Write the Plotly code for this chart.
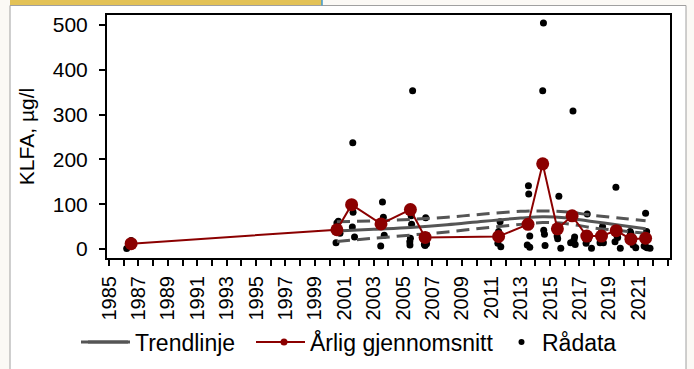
import plotly.graph_objects as go

# ---- data ----
mean_years = [1986.5, 2000.5, 2001.5, 2003.5, 2005.5, 2006.5, 2011.5, 2013.5, 2014.5,
              2015.5, 2016.5, 2017.5, 2018.5, 2019.5, 2020.5, 2021.5]
mean_vals = [12, 43, 99, 56, 88, 26, 28, 55, 190, 45, 74, 29, 29, 41, 22, 24]

raw_x = [1986.2, 1986.5, 1986.5,
         2000.44, 2000.6, 2000.71, 2000.5,
         2001.58, 2001.6, 2001.55, 2001.7,
         2003.6, 2003.66, 2003.72, 2003.48,
         2005.65, 2005.55, 2005.58, 2005.5, 2005.46, 2005.47,
         2006.54, 2006.45, 2006.5, 2006.6,
         2011.6, 2011.5, 2011.45, 2011.65,
         2013.53, 2013.55, 2013.62, 2013.45, 2013.62,
         2014.55, 2014.5, 2014.57, 2014.62, 2014.66,
         2015.6, 2015.48, 2015.52, 2015.73,
         2016.56, 2016.4, 2016.63, 2016.71, 2016.67,
         2017.53, 2017.45, 2017.82, 2017.6,
         2018.57, 2018.4, 2018.63, 2018.5,
         2019.48, 2019.6, 2019.42, 2019.78, 2019.55,
         2020.45, 2020.65, 2020.83, 2020.5,
         2021.5, 2021.57, 2021.4, 2021.8, 2021.6, 2021.5]
raw_y = [1, 16, 19,
         14, 62, 35, 58,
         237, 82, 49, 27,
         105, 71, 31, 7,
         353, 74, 55, 24, 16, 9,
         70, 10, 8, 12,
         61, 39, 13, 5,
         141, 123, 29, 9, 4,
         504, 353, 42, 33, 8,
         118, 29, 23, 2,
         308, 14, 20, 10, 27,
         78, 13, 2, 22,
         50, 14, 14, 38,
         138, 26, 16, 2, 30,
         39, 9, 3, 35,
         80, 39, 7, 2, 3, 5]

trend_years = [2000.5, 2003, 2005.5, 2008, 2010.5, 2013, 2014.5, 2016, 2018, 2020, 2021.5]
trend_mid = [40, 44, 48, 54, 62, 69, 72, 70, 61, 52, 45]
trend_hi = [61, 63, 66, 71, 78, 84, 85, 83, 75, 68, 63]
trend_lo = [17, 24, 31, 38, 47, 55, 59, 57, 47, 40, 35]

tick_years = list(range(1985, 2022, 2))
y_ticks = [0, 100, 200, 300, 400, 500]

# ---- figure ----
W, H = 694, 369
L, R, T, B = 107, 670, 15, 258
pw, ph = R - L, B - T

def px(x):
    return (x - L) / pw

def py(y):
    return (B - y) / ph

font = "Liberation Sans, Arial, sans-serif"
gray = "#555555"
red = "#8b0000"
leg_y = 342

fig = go.Figure()
fig.add_trace(go.Scatter(x=raw_x, y=raw_y, mode="markers", showlegend=False,
                         marker=dict(color="black", size=7)))
fig.add_trace(go.Scatter(x=trend_years, y=trend_hi, mode="lines", showlegend=False,
                         line=dict(color=gray, width=3, dash="13px,7px", shape="spline")))
fig.add_trace(go.Scatter(x=trend_years, y=trend_lo, mode="lines", showlegend=False,
                         line=dict(color=gray, width=3, dash="13px,7px", shape="spline")))
fig.add_trace(go.Scatter(x=trend_years, y=trend_mid, mode="lines", showlegend=False,
                         line=dict(color=gray, width=3, shape="spline")))
fig.add_trace(go.Scatter(x=mean_years, y=mean_vals, mode="lines+markers", showlegend=False,
                         line=dict(color=red, width=2),
                         marker=dict(color=red, size=13)))

# legend-only entries
fig.add_trace(go.Scatter(x=[None], y=[None], mode="lines", name="Trendlinje",
                         line=dict(color=gray, width=3), legend="legend"))
fig.add_trace(go.Scatter(x=[None], y=[None], mode="lines+markers", name="Årlig gjennomsnitt",
                         line=dict(color=red, width=2), marker=dict(color=red, size=7),
                         legend="legend2"))
fig.add_trace(go.Scatter(x=[None], y=[None], mode="markers", name="Rådata",
                         marker=dict(color="black", size=6), legend="legend3"))

shapes = [
    dict(type="rect", xref="paper", yref="paper", layer="below",
         x0=px(10), x1=px(686), y0=py(380), y1=py(5.5),
         fillcolor="white", line=dict(color="#a0a0a0", width=1)),
    dict(type="rect", xref="paper", yref="paper", layer="below",
         x0=px(10), x1=px(322), y0=py(5), y1=py(-2),
         fillcolor="#e3c257", line=dict(width=0)),
    dict(type="line", xref="paper", yref="paper", layer="below",
         x0=px(322), x1=px(322), y0=py(5.5), y1=py(-2),
         line=dict(color="#3c9ad0", width=1.5)),
    # longer legend symbol lines
    dict(type="line", xref="paper", yref="paper", layer="above",
         x0=px(81), x1=px(128), y0=py(leg_y), y1=py(leg_y),
         line=dict(color=gray, width=3)),
    dict(type="line", xref="paper", yref="paper", layer="above",
         x0=px(256), x1=px(304), y0=py(leg_y), y1=py(leg_y),
         line=dict(color=red, width=2)),
]

leg_common = dict(orientation="h", xanchor="left", yanchor="middle", y=py(leg_y),
                  font=dict(size=23, family=font), bgcolor="rgba(0,0,0,0)")

fig.update_layout(
    width=W, height=H,
    margin=dict(l=L, r=W - R, t=T, b=H - B, autoexpand=False),
    paper_bgcolor="#fbf9f5",
    plot_bgcolor="white",
    font=dict(family=font, size=20, color="black"),
    shapes=shapes,
    showlegend=True,
    legend=dict(x=px(83), itemwidth=42, **leg_common),
    legend2=dict(x=px(258), itemwidth=42, **leg_common),
    legend3=dict(x=px(501), itemwidth=31, **leg_common),
    xaxis=dict(range=[1984.86, 2023.16], tickmode="array", tickvals=tick_years,
               ticktext=[str(v) for v in tick_years], tickangle=-90,
               ticks="outside", ticklen=6, tickwidth=1.5, tickcolor="black",
               minor=dict(dtick=1, tick0=1985, ticks="outside", ticklen=6,
                          tickwidth=1.5, tickcolor="black"),
               showline=True, mirror=True, linecolor="black", linewidth=2,
               showgrid=False, zeroline=False, tickfont=dict(size=20),
               ticklabelstandoff=2),
    yaxis=dict(range=[-20, 522], tickvals=y_ticks,
               ticks="outside", ticklen=6, tickwidth=1.5, tickcolor="black",
               showline=True, mirror=True, linecolor="black", linewidth=2,
               showgrid=False, zeroline=False, tickfont=dict(size=21),
               ticklabelstandoff=7,
               title=dict(text="KLFA, µg/l", font=dict(size=21), standoff=12)),
)

fig.write_html("out.html", config={"displayModeBar": False},
               post_script="document.body.style.margin='0';"
                           "document.body.style.background='#fbf9f5';")
